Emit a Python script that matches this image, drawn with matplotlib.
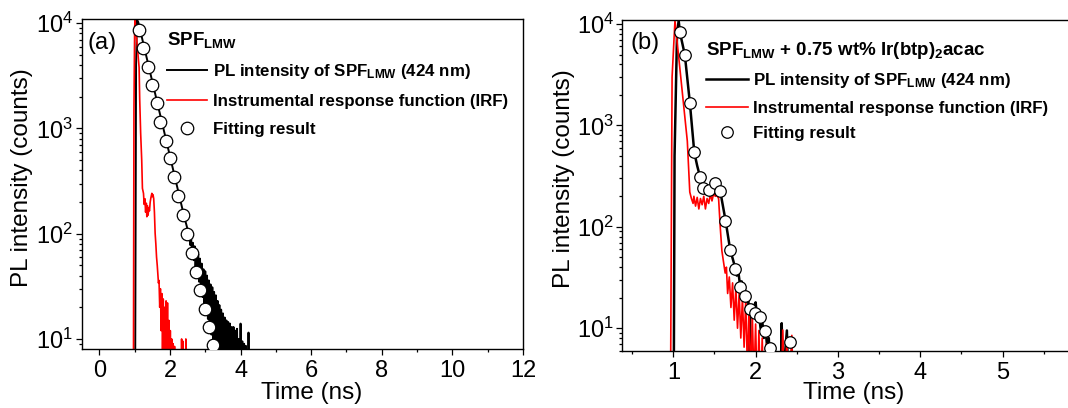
import numpy as np
import matplotlib
matplotlib.use('Agg')
import matplotlib.pyplot as plt
from matplotlib.ticker import LogLocator, MultipleLocator, FuncFormatter, NullFormatter

plt.rcParams['font.family'] = ['Liberation Sans', 'DejaVu Sans']
plt.rcParams['mathtext.fontset'] = 'custom'
plt.rcParams['mathtext.rm'] = 'Liberation Sans'
plt.rcParams['mathtext.it'] = 'Liberation Sans:italic'
plt.rcParams['mathtext.bf'] = 'Liberation Sans:bold'

# ---------------- Panel (a): SPF_LMW ----------------
a_pl_t = [0.95, 1.00, 1.013, 1.04, 1.065, 1.10, 1.20, 1.40, 1.60, 1.80, 2.00, 2.20, 2.40, 2.55,
          2.575, 2.60, 2.625, 2.65, 2.675, 2.70, 2.725, 2.75, 2.775, 2.80, 2.825, 2.85, 2.875, 2.90,
          2.925, 2.95, 2.975, 3.00, 3.025, 3.05, 3.075, 3.10, 3.125, 3.15, 3.175, 3.20, 3.225, 3.25,
          3.275, 3.30, 3.325, 3.35, 3.375, 3.40, 3.425, 3.45, 3.475, 3.50, 3.525, 3.55, 3.575, 3.60,
          3.625, 3.65, 3.675, 3.70, 3.725, 3.75, 3.775, 3.80, 3.825, 3.85, 3.875, 3.90, 3.925, 3.95,
          3.975, 4.00, 4.025, 4.05, 4.075, 4.10, 4.125, 4.15, 4.175, 4.20, 4.225, 4.25, 4.30, 12.0]
a_pl_y = [2, 2, 3, 4000, 10800, 10300, 7450, 3870, 2010, 1047, 545, 283, 147, 95,
          78, 90, 66, 82, 56, 76, 48, 70, 41, 64, 35, 58, 30, 52,
          25, 46, 21.5, 44, 18, 40, 15.5, 36, 13, 33, 11, 31, 9.5, 28,
          8, 26, 7, 23, 5.8, 21, 5, 19, 4.2, 17.5, 3.6, 16, 3, 15,
          2.6, 14.5, 2.2, 14, 2, 13, 2, 13, 2, 12, 2, 12.5, 2, 10,
          2, 14, 2, 9.5, 2, 9, 2, 8.6, 2, 2, 11.5, 2, 2, 2]

a_irf_t = [0.93, 0.965, 0.98, 1.00, 1.01, 1.05, 1.10, 1.126, 1.143, 1.17, 1.20, 1.22, 1.25, 1.27,
           1.29, 1.31, 1.33, 1.345, 1.36, 1.38, 1.40, 1.42, 1.44, 1.46, 1.487, 1.50, 1.52, 1.54,
           1.56, 1.58, 1.60, 1.62, 1.64, 1.66, 1.674, 1.69, 1.71, 1.73, 1.75, 1.77, 1.79, 1.81,
           1.83, 1.85, 1.87, 1.89, 1.91, 1.93, 1.95, 1.97, 1.99, 2.01, 2.03, 2.05, 2.07, 2.09,
           2.11, 2.13, 2.15, 2.32, 2.33, 2.35, 2.37, 2.39, 2.44, 2.45, 2.47, 12.0]
a_irf_y = [2, 3, 1500, 9000, 10800, 7500, 4800, 3800, 1900, 900, 500, 270, 242, 190,
           215, 160, 195, 145, 185, 150, 175, 165, 200, 220, 242, 225, 235, 215,
           160, 101, 80, 60, 50, 40, 34, 36, 20, 30, 12, 27, 8, 24,
           5, 20, 3, 23, 3, 22, 2.5, 15, 2, 12, 2, 10, 2, 9,
           2, 8.5, 2, 2, 10, 2, 9.5, 2, 2, 10, 2, 2]

a_fit_t = [1.135, 1.248, 1.39, 1.486, 1.645, 1.72, 1.89, 1.99, 2.128, 2.241, 2.366, 2.479,
           2.62, 2.743, 2.857, 2.979, 3.092, 3.217]
a_fit_y = [8630, 5780, 3860, 2590, 1740, 1150, 766, 520, 344, 228, 151, 98.6,
           65.2, 43.6, 29.2, 19.4, 12.9, 8.75]

# ---------------- Panel (b): SPF_LMW + Ir(btp)2acac ----------------
b_pl_t = [0.98, 1.005, 1.015, 1.045, 1.065, 1.08, 1.14, 1.20, 1.255, 1.29, 1.325, 1.36, 1.40,
          1.43, 1.46, 1.49, 1.51, 1.54, 1.57, 1.60, 1.635, 1.69, 1.75, 1.77, 1.79, 1.81, 1.83,
          1.85, 1.87, 1.89, 1.91, 1.925, 1.93, 1.935, 1.95, 1.97, 1.99, 2.00, 2.02, 2.04, 2.06,
          2.08, 2.10, 2.12, 2.14, 2.16, 2.18, 2.20, 2.22, 2.30, 2.317, 2.33, 2.38, 2.40, 6.0]
b_pl_y = [2, 2, 500, 8000, 10800, 8300, 4950, 1700, 540, 400, 310, 250, 240,
          232, 245, 265, 270, 250, 225, 165, 115, 60, 40, 33, 36, 27, 29,
          22, 24, 18, 20, 12, 2, 17, 15, 17, 13, 18, 12, 14, 10,
          12, 8, 10, 6.5, 8, 4, 6.5, 2, 2, 11.2, 3, 9.5, 2, 2]

b_irf_t = [0.95, 0.968, 0.985, 1.02, 1.17, 1.20, 1.22, 1.24, 1.25, 1.27, 1.29, 1.31, 1.33,
           1.35, 1.37, 1.39, 1.41, 1.43, 1.45, 1.47, 1.49, 1.51, 1.53, 1.55, 1.57, 1.59, 1.61,
           1.63, 1.645, 1.66, 1.68, 1.70, 1.72, 1.74, 1.76, 1.78, 1.80, 1.82, 1.84, 1.86, 1.88,
           1.90, 1.92, 1.94, 1.96, 1.98, 2.00, 2.02, 2.04, 2.06, 2.08, 2.10, 2.13, 2.15, 2.31,
           2.33, 2.35, 2.38, 2.40, 2.44, 2.46, 6.0]
b_irf_y = [2, 5, 3000, 10800, 700, 220, 190, 170, 200, 160, 195, 150, 190,
           165, 200, 150, 190, 170, 210, 180, 215, 200, 205, 190, 100, 58, 45,
           35, 40, 22, 32, 16, 28, 12, 25, 10, 22, 8, 20, 6.5, 19,
           4, 16, 3, 13, 3, 11, 2, 9.5, 2, 8, 2, 7, 2, 2,
           9.6, 2, 8, 2, 8.5, 2, 2]

b_fit_t = [1.079, 1.141, 1.199, 1.252, 1.324, 1.365, 1.428, 1.507, 1.567, 1.634, 1.689,
           1.750, 1.811, 1.872, 1.930, 1.990, 2.051, 2.114, 2.175, 2.423]
b_fit_y = [8280, 4940, 1675, 541, 312, 244, 231, 272, 223, 115, 58.6,
           38.2, 25.3, 20.8, 15.6, 14.0, 13.0, 9.44, 6.34, 7.36]

a_xticks = [0, 2, 4, 6, 8, 10, 12]
b_xticks = [1, 2, 3, 4, 5]

W, H = 1068, 408
fig = plt.figure(figsize=(W / 100, H / 100), dpi=100)

def fig_rect(x0, y0, x1, y1):
    return [x0 / W, 1 - y1 / H, (x1 - x0) / W, (y1 - y0) / H]

ax_a = fig.add_axes(fig_rect(81.7, 19.3, 523.0, 349.0))
ax_b = fig.add_axes(fig_rect(622.3, 20.0, 1084.8, 350.7))

def style(ax, xlim, ylim, xmin, xticks):
    ax.set_yscale('log')
    ax.set_xlim(*xlim)
    ax.set_ylim(*ylim)
    ax.set_xticks(xticks)
    ax.xaxis.set_minor_locator(MultipleLocator(xmin))
    ax.yaxis.set_major_locator(LogLocator(base=10, numticks=10))
    ax.yaxis.set_minor_locator(LogLocator(base=10, subs=np.arange(2, 10), numticks=20))
    ax.yaxis.set_major_formatter(FuncFormatter(lambda v, p: r'$\mathregular{10^{%d}}$' % round(np.log10(v))))
    ax.yaxis.set_minor_formatter(NullFormatter())
    ax.tick_params(which='both', direction='out', top=False, right=False, width=0.9, colors='black')
    ax.tick_params(which='major', length=4, labelsize=17, pad=2)
    ax.tick_params(axis='x', which='major', pad=4)
    ax.tick_params(which='minor', length=2.5)
    for s in ax.spines.values():
        s.set_linewidth(1.0)
    ax.set_xlabel('Time (ns)', fontsize=17.5)
    ax.set_ylabel('PL intensity (counts)', fontsize=17.5)

style(ax_a, (-0.5, 12.0), (8.03, 10900), 1, a_xticks)
style(ax_b, (0.38, 6.0), (6.0, 10950), 0.5, b_xticks)

# panel (a)
la_pl, = ax_a.plot(a_pl_t, a_pl_y, color='black', lw=1.4, zorder=2)
la_irf, = ax_a.plot(a_irf_t, a_irf_y, color='red', lw=1.2, zorder=2)
la_fit, = ax_a.plot(a_fit_t, a_fit_y, ls='none', marker='o', ms=9.0, mfc='white', mec='black',
                    mew=0.9, zorder=3)

# panel (b)
lb_pl, = ax_b.plot(b_pl_t, b_pl_y, color='black', lw=1.8, zorder=2)
lb_irf, = ax_b.plot(b_irf_t, b_irf_y, color='red', lw=1.2, zorder=2)
lb_fit, = ax_b.plot(b_fit_t, b_fit_y, ls='none', marker='o', ms=8.3, mfc='white', mec='black',
                    mew=0.9, zorder=3)

labels = [r'PL intensity of SPF$_{\mathbf{LMW}}$ (424 nm)',
          'Instrumental response function (IRF)',
          'Fitting result']

ax_a.legend([la_pl, la_irf, la_fit], labels, loc='upper left', bbox_to_anchor=(0.193, 0.969),
            frameon=False, title=r'SPF$_{\mathbf{LMW}}$',
            title_fontproperties={'weight': 'bold', 'size': 13.5}, alignment='left',
            prop={'weight': 'bold', 'size': 12.2}, handlelength=2.35, handletextpad=0.35,
            borderpad=0, borderaxespad=0, labelspacing=0.75, numpoints=1)
ax_b.legend([lb_pl, lb_irf, lb_fit], labels, loc='upper left', bbox_to_anchor=(0.181, 0.94),
            frameon=False, title=r'SPF$_{\mathbf{LMW}}$ + 0.75 wt% Ir(btp)$_{\mathbf{2}}$acac',
            title_fontproperties={'weight': 'bold', 'size': 13.5}, alignment='left',
            prop={'weight': 'bold', 'size': 12.2}, handlelength=2.45, handletextpad=0.3,
            borderpad=0, borderaxespad=0, labelspacing=0.62, numpoints=1)

ax_a.text(0.014, 0.928, '(a)', transform=ax_a.transAxes, fontsize=17, va='center', ha='left')
ax_b.text(0.017, 0.929, '(b)', transform=ax_b.transAxes, fontsize=17, va='center', ha='left')

ax_a.xaxis.set_label_coords(0.52, -0.10)
ax_b.xaxis.set_label_coords(0.50, -0.095)
ax_a.yaxis.set_label_coords(-0.135, 0.52)
ax_b.yaxis.set_label_coords(-0.127, 0.52)
ax_a.yaxis.label.set_verticalalignment('center')
ax_b.yaxis.label.set_verticalalignment('center')

fig.savefig('out.png', dpi=100)
